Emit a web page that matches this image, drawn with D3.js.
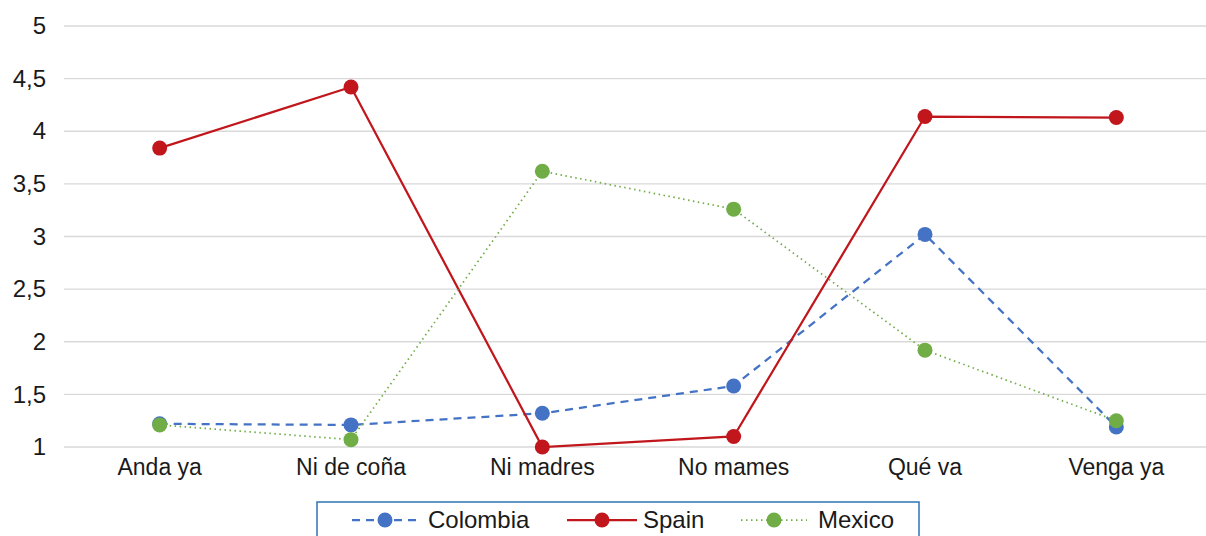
<!DOCTYPE html>
<html>
<head>
<meta charset="utf-8">
<script src="https://cdn.jsdelivr.net/npm/d3@7"></script>
<style>
  html, body { margin: 0; padding: 0; background: #fff; }
  svg { display: block; }
  text { font-family: "Liberation Sans", Arial, sans-serif; fill: #1a1a1a; }
</style>
</head>
<body>
<svg id="chart" width="1206" height="536"></svg>
<script>
const categories = ["Anda ya", "Ni de coña", "Ni madres", "No mames", "Qué va", "Venga ya"];
const colombia = [1.22, 1.21, 1.32, 1.58, 3.02, 1.19];
const spain    = [3.84, 4.42, 1.00, 1.10, 4.14, 4.13];
const mexico   = [1.21, 1.07, 3.62, 3.26, 1.92, 1.25];
const yTicks   = [1, 1.5, 2, 2.5, 3, 3.5, 4, 4.5, 5];

const series = [
  { name: "Colombia", values: colombia, color: "#4472C4", dash: "8,6", width: 2.25 },
  { name: "Spain",    values: spain,    color: "#C0161C", dash: null,  width: 2.25 },
  { name: "Mexico",   values: mexico,   color: "#70AD47", dash: "1.5,3.5", width: 1.75 }
];

const svg = d3.select("#chart");
const plot = { left: 64, right: 1212, top: 26, bottom: 447 };

const x = d3.scaleBand().domain(categories).range([plot.left, plot.right]);
const y = d3.scaleLinear().domain([1, 5]).range([plot.bottom, plot.top]);

// horizontal gridlines
svg.append("g")
  .selectAll("line")
  .data(yTicks)
  .join("line")
  .attr("x1", plot.left).attr("x2", 1206)
  .attr("y1", d => y(d)).attr("y2", d => y(d))
  .attr("stroke", "#d9d9d9").attr("stroke-width", 1.3);

// y axis labels
const yAxis = d3.axisLeft(y).tickValues(yTicks).tickSize(0).tickPadding(0)
  .tickFormat(d => String(d).replace(".", ","));
const gy = svg.append("g").attr("transform", `translate(46,0)`).call(yAxis);
gy.select(".domain").remove();
gy.selectAll("text").attr("font-size", 24).attr("fill", "#1a1a1a")
  .style("font-family", "'Liberation Sans', Arial, sans-serif");

// x axis labels
const xAxis = d3.axisBottom(x).tickSize(0).tickPadding(0);
const gx = svg.append("g").attr("transform", `translate(0,${plot.bottom + 12})`).call(xAxis);
gx.select(".domain").remove();
gx.selectAll("text").attr("font-size", 23).attr("fill", "#1a1a1a")
  .style("font-family", "'Liberation Sans', Arial, sans-serif");

const cx = c => x(c) + x.bandwidth() / 2;
const line = d3.line().x((d, i) => cx(categories[i])).y(d => y(d));

series.forEach(s => {
  const g = svg.append("g");
  g.append("path")
    .attr("d", line(s.values))
    .attr("fill", "none")
    .attr("stroke", s.color)
    .attr("stroke-width", s.width)
    .attr("stroke-dasharray", s.dash);
  g.selectAll("circle")
    .data(s.values)
    .join("circle")
    .attr("cx", (d, i) => cx(categories[i]))
    .attr("cy", d => y(d))
    .attr("r", 7.5)
    .attr("fill", s.color);
});

// legend
const legend = svg.append("g");
legend.append("rect")
  .attr("x", 317).attr("y", 502).attr("width", 602).attr("height", 40)
  .attr("fill", "#fff").attr("stroke", "#2E75B6").attr("stroke-width", 1.5);

const legendPos = [
  { x1: 352, x2: 418, tx: 428 },
  { x1: 567, x2: 637, tx: 643 },
  { x1: 741, x2: 807, tx: 818 }
];
series.forEach((s, i) => {
  const p = legendPos[i];
  const ly = 520;
  legend.append("line")
    .attr("x1", p.x1).attr("x2", p.x2).attr("y1", ly).attr("y2", ly)
    .attr("stroke", s.color).attr("stroke-width", s.width)
    .attr("stroke-dasharray", s.dash);
  legend.append("circle")
    .attr("cx", (p.x1 + p.x2) / 2).attr("cy", ly).attr("r", 7.5).attr("fill", s.color);
  legend.append("text")
    .attr("x", p.tx).attr("y", ly).attr("dy", "0.35em")
    .attr("font-size", 24).text(s.name);
});
</script>
</body>
</html>
